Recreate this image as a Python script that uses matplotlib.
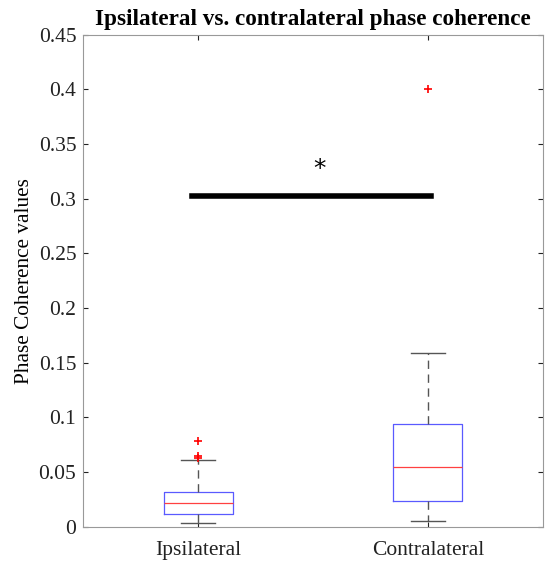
import matplotlib.pyplot as plt

# box statistics
groups = ['Ipsilateral', 'Contralateral']
q1 = [0.012, 0.024]
med = [0.022, 0.055]
q3 = [0.032, 0.094]
whislo = [0.003, 0.0055]
whishi = [0.061, 0.159]
fliers = [[0.078, 0.063, 0.065], [0.40]]
sig_y = 0.303
sig_x = [0.975, 2.015]
star_pos = (1.53, 0.327)

plt.rcParams['font.family'] = ['Liberation Serif', 'DejaVu Serif']

stats = []
for i in range(len(groups)):
    stats.append(dict(label=groups[i], q1=q1[i], med=med[i], q3=q3[i],
                      whislo=whislo[i], whishi=whishi[i], fliers=fliers[i]))

fig = plt.figure(figsize=(5.51, 5.61), dpi=100)
ax = fig.add_axes([0.151, 0.061, 0.834, 0.877])

ax.bxp(stats, positions=[1, 2], widths=0.3, showfliers=True,
       boxprops=dict(color='#5a5aff', linewidth=0.9),
       medianprops=dict(color='#ff4040', linewidth=0.9),
       whiskerprops=dict(color='#555555', linestyle=(0, (6, 4)), linewidth=1.0),
       capprops=dict(color='#555555', linewidth=1.0),
       flierprops=dict(marker='+', markeredgecolor='red', markersize=6,
                       markeredgewidth=1.2))

ax.plot(sig_x, [sig_y, sig_y], color='black', linewidth=4)
ax.text(star_pos[0], star_pos[1], '*', fontsize=18, ha='center', va='center',
        family='DejaVu Sans')

ax.set_xlim(0.5, 2.5)
ax.set_ylim(0, 0.45)
ax.set_yticks([0, 0.05, 0.1, 0.15, 0.2, 0.25, 0.3, 0.35, 0.4, 0.45])
ax.set_yticklabels(['0', '0.05', '0.1', '0.15', '0.2', '0.25', '0.3', '0.35', '0.4', '0.45'])
ax.tick_params(direction='in', top=True, right=True, labelsize=15.5,
               colors='#222222', pad=5)
ax.tick_params(axis='x', pad=10)
for s in ax.spines.values():
    s.set_color('#999999')

ax.set_ylabel('Phase Coherence values', fontsize=15.3)
ax.yaxis.set_label_coords(-0.106, 0.5)
ax.set_title('Ipsilateral vs. contralateral phase coherence', fontsize=16.7,
             fontweight='bold', pad=7)

fig.savefig('out.png', dpi=100)
